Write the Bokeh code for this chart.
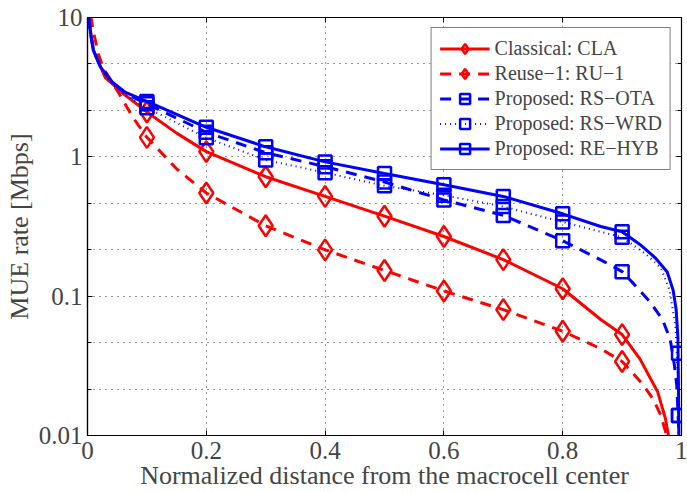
from bokeh.plotting import figure
from bokeh.models import (FixedTicker, LinearAxis, LogAxis, Range1d, Legend,
                          LegendItem, CustomJSTickFormatter)
from bokeh.embed import file_html
from bokeh.resources import INLINE

# ---- data: MUE rate [Mbps] vs normalized distance ----
cla_x = [0.003, 0.01, 0.03, 0.06, 0.1, 0.15, 0.2, 0.3, 0.4, 0.5, 0.6, 0.7, 0.8,
         0.864, 0.9, 0.93, 0.96, 0.973, 0.978]
cla_y = [9.3, 5.8, 3.7, 2.85, 2.1, 1.48, 1.09, 0.72, 0.52, 0.375, 0.268, 0.183,
         0.113, 0.068, 0.053, 0.0355, 0.0205, 0.0132, 0.0100]
cla_mx = [0.1, 0.2, 0.3, 0.4, 0.5, 0.6, 0.7, 0.8, 0.9]
cla_my = [2.1, 1.09, 0.72, 0.52, 0.375, 0.268, 0.183, 0.113, 0.053]

ru1_x = [0.003, 0.006, 0.009, 0.018, 0.027, 0.04, 0.052, 0.076, 0.1, 0.15, 0.2,
         0.3, 0.4, 0.5, 0.6, 0.7, 0.8, 0.864, 0.9, 0.936, 0.953, 0.965, 0.975]
ru1_y = [14.0, 10.0, 8.3, 5.5, 4.3, 3.5, 2.9, 1.93, 1.38, 0.82, 0.55, 0.32,
         0.215, 0.153, 0.109, 0.080, 0.056, 0.042, 0.034, 0.023, 0.018, 0.014,
         0.0100]
ru1_mx = [0.1, 0.2, 0.3, 0.4, 0.5, 0.6, 0.7, 0.8, 0.9]
ru1_my = [1.38, 0.55, 0.32, 0.215, 0.153, 0.109, 0.080, 0.056, 0.034]

ota_x = [0.002, 0.005, 0.01, 0.022, 0.042, 0.064, 0.1, 0.2, 0.3, 0.4, 0.5, 0.6,
         0.7, 0.8, 0.872, 0.9, 0.92, 0.948, 0.968, 0.981, 0.988, 0.992, 0.995,
         0.996]
ota_y = [10.0, 7.7, 5.8, 4.4, 3.4, 2.85, 2.4, 1.5, 1.07, 0.85, 0.66, 0.49, 0.38,
         0.25, 0.175, 0.15, 0.122, 0.09, 0.068, 0.049, 0.032, 0.023, 0.012,
         0.005]
ota_mx = [0.1, 0.2, 0.3, 0.4, 0.5, 0.6, 0.7, 0.8, 0.9, 0.995]
ota_my = [2.4, 1.5, 1.07, 0.85, 0.66, 0.49, 0.38, 0.25, 0.15, 0.039]

wrd_x = [0.002, 0.005, 0.01, 0.022, 0.042, 0.064, 0.1, 0.2, 0.3, 0.4, 0.5, 0.6,
         0.7, 0.8, 0.9, 0.94, 0.965, 0.98, 0.99, 0.994, 0.996]
wrd_y = [10.0, 7.6, 5.7, 4.3, 3.3, 2.75, 2.25, 1.37, 0.95, 0.77, 0.62, 0.53,
         0.44, 0.34, 0.265, 0.2, 0.16, 0.11, 0.06, 0.025, 0.005]
wrd_mx = [0.1, 0.2, 0.3, 0.4, 0.5, 0.6, 0.7, 0.8, 0.9, 0.995]
wrd_my = [2.25, 1.37, 0.95, 0.77, 0.62, 0.53, 0.44, 0.34, 0.265, 0.0139]

hyb_x = [0.0, 0.002, 0.005, 0.01, 0.022, 0.042, 0.064, 0.1, 0.2, 0.3, 0.4, 0.5,
         0.6, 0.7, 0.8, 0.864, 0.9, 0.93, 0.955, 0.976, 0.986, 0.991, 0.994,
         0.995, 0.996]
hyb_y = [11.0, 10.0, 7.7, 5.8, 4.4, 3.43, 2.9, 2.5, 1.63, 1.18, 0.92, 0.76,
         0.63, 0.52, 0.39, 0.316, 0.29, 0.235, 0.19, 0.149, 0.11, 0.08, 0.05,
         0.02, 0.005]
hyb_mx = [0.1, 0.2, 0.3, 0.4, 0.5, 0.6, 0.7, 0.8, 0.9, 0.995]
hyb_my = [2.5, 1.63, 1.18, 0.92, 0.76, 0.63, 0.52, 0.39, 0.29, 0.0139]

x_ticks = [0, 0.2, 0.4, 0.6, 0.8, 1]
y_ticks = [0.01, 0.1, 1, 10]
# grid / minor ticks every third of a decade
y_grid = [10 ** (k / 3) for k in range(-6, 4)]

labels = ["Classical: CLA", "Reuse\u22121: RU\u22121", "Proposed: RS\u2212OTA",
          "Proposed: RS\u2212WRD", "Proposed: RE\u2212HYB"]

FONT = "Liberation Serif"
RED = "#ff0000"
BLUE = "#0000ff"

p = figure(width=687, height=492, y_axis_type="log",
           x_range=Range1d(0, 1), y_range=Range1d(0.01, 10),
           output_backend="svg", toolbar_location=None,
           min_border_left=87, min_border_right=6, min_border_top=17,
           min_border_bottom=55, background_fill_color="white")
p.outline_line_color = "black"
p.outline_line_width = 1.2

plain = CustomJSTickFormatter(code="return tick.toString();")
blank = CustomJSTickFormatter(code="return '';")

# axes
p.xaxis.ticker = FixedTicker(ticks=x_ticks)
p.yaxis.ticker = FixedTicker(ticks=y_ticks, minor_ticks=y_grid)
p.yaxis.formatter = plain
p.xaxis.formatter = plain
p.xaxis.axis_label = "Normalized distance from the macrocell center"
p.yaxis.axis_label = "MUE rate [Mbps]"
for ax in (p.xaxis, p.yaxis):
    ax.axis_label_text_font = FONT
    ax.axis_label_text_font_style = "normal"
    ax.axis_label_text_font_size = "26px"
    ax.major_label_text_font = FONT
    ax.major_label_text_font_size = "25px"
    ax.major_tick_in = 5
    ax.major_tick_out = 0
    ax.minor_tick_in = 4
    ax.minor_tick_out = 0
    ax.axis_line_color = "black"
    ax.axis_line_width = 1.2
p.xaxis.major_label_standoff = 6
p.xaxis.axis_label_standoff = -1
p.yaxis.major_label_standoff = 5
p.yaxis.axis_label_standoff = 2

top_axis = LinearAxis(ticker=FixedTicker(ticks=x_ticks), formatter=blank,
                      major_tick_in=5, major_tick_out=0, minor_tick_in=0, minor_tick_out=0,
                      axis_line_color="black", major_label_standoff=0)
right_axis = LogAxis(ticker=FixedTicker(ticks=y_ticks, minor_ticks=y_grid), formatter=blank,
                     major_tick_in=5, major_tick_out=0,
                     minor_tick_in=4, minor_tick_out=0, axis_line_color="black",
                     major_label_standoff=0)
p.add_layout(top_axis, "above")
p.add_layout(right_axis, "right")

# dotted grid
p.xgrid.ticker = FixedTicker(ticks=x_ticks[1:-1])
p.ygrid.ticker = FixedTicker(ticks=y_grid)
for g in (p.xgrid, p.ygrid):
    g.grid_line_color = "black"
    g.grid_line_dash = "1 5"
    g.grid_line_width = 1
    g.grid_line_alpha = 0.8

# curves
l_cla = p.line(cla_x, cla_y, line_color=RED, line_width=3)
m_cla = p.scatter(cla_mx, cla_my, marker="diamond", size=21, line_color=RED,
                  line_width=2.5, fill_color=None)
l_ru1 = p.line(ru1_x, ru1_y, line_color=RED, line_width=3, line_dash="11 8")
m_ru1 = p.scatter(ru1_mx, ru1_my, marker="diamond", size=21, line_color=RED,
                  line_width=2.5, fill_color=None)
l_ota = p.line(ota_x, ota_y, line_color=BLUE, line_width=3, line_dash="11 8")
m_ota = p.scatter(ota_mx, ota_my, marker="square", size=13, line_color=BLUE,
                  line_width=2.5, fill_color=None)
l_wrd = p.line(wrd_x, wrd_y, line_color=BLUE, line_width=2, line_dash="1 4")
m_wrd = p.scatter(wrd_mx, wrd_my, marker="square", size=13, line_color=BLUE,
                  line_width=2.5, fill_color=None)
l_hyb = p.line(hyb_x, hyb_y, line_color=BLUE, line_width=3)
m_hyb = p.scatter(hyb_mx, hyb_my, marker="square", size=13, line_color=BLUE,
                  line_width=2.5, fill_color=None)

items = [LegendItem(label=lab, renderers=rs) for lab, rs in zip(
    labels, [[l_cla, m_cla], [l_ru1, m_ru1], [l_ota, m_ota], [l_wrd, m_wrd], [l_hyb, m_hyb]])]
legend = Legend(items=items, location="top_right", margin=10,
                label_text_font=FONT, label_text_font_size="20px",
                glyph_width=50, glyph_height=25, label_height=20, spacing=0,
                padding=8, label_standoff=5, border_line_color="black",
                border_line_width=1.5, background_fill_color="white",
                background_fill_alpha=1)
p.add_layout(legend, "center")

open("out.html", "w").write(file_html(p, INLINE))
